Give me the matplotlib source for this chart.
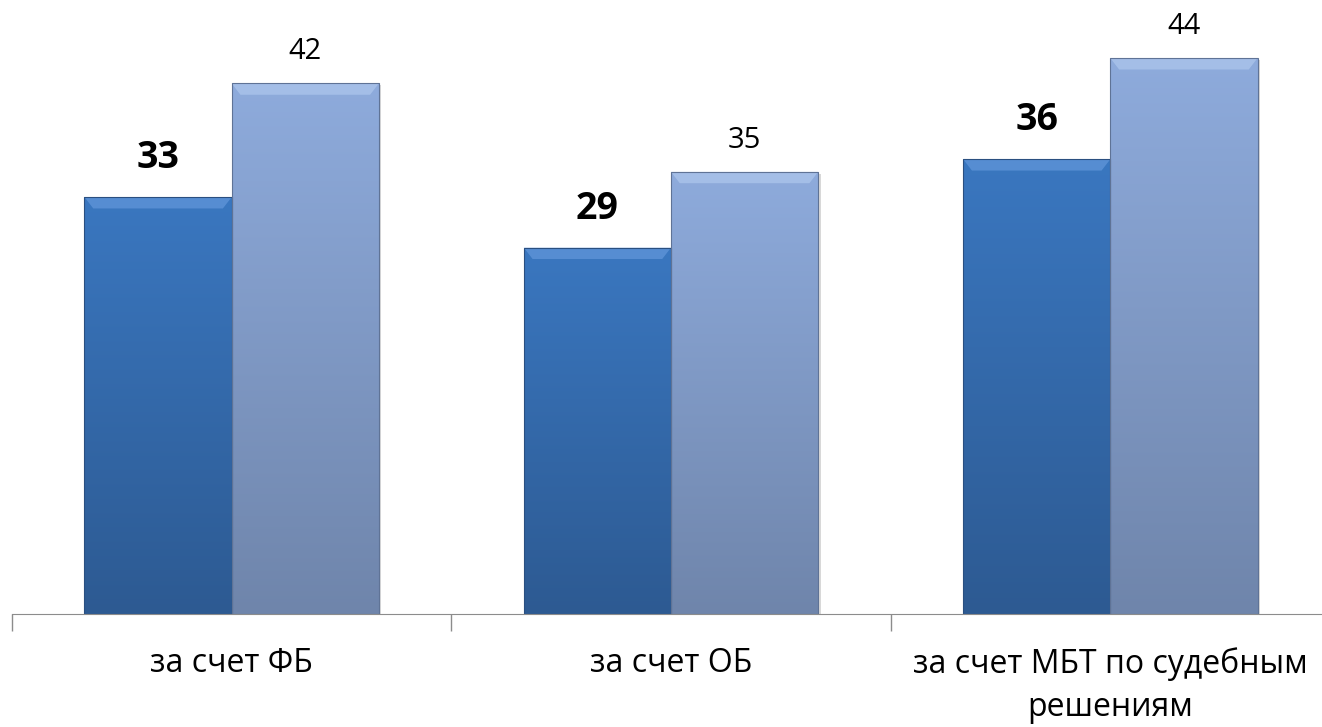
import numpy as np
from matplotlib import pyplot as plt
from matplotlib.colors import LinearSegmentedColormap

categories = ['за счет ФБ', 'за счет ОБ', 'за счет МБТ по судебным\nрешениям']
series_dark = [33, 29, 36]
series_light = [42, 35, 44]

plt.rcParams['font.family'] = ['Open Sans', 'DejaVu Sans']

fig = plt.figure(figsize=(13.22, 7.27), dpi=100)
ax = fig.add_axes([12 / 1322, 113 / 727, 1318 / 1322, 614 / 727])

x = np.arange(len(categories))
w = 0.335

bars_dark = ax.bar(x - w / 2, series_dark, w, color='none', edgecolor='#2a4f80', linewidth=0.8, zorder=3)
bars_light = ax.bar(x + w / 2, series_light, w, color='none', edgecolor='#5f7396', linewidth=0.8, zorder=3)

cmap_dark = LinearSegmentedColormap.from_list('d', ['#2d5a92', '#3a77c0'])
cmap_light = LinearSegmentedColormap.from_list('l', ['#6f85ab', '#8eabdc'])
grad = np.linspace(0, 1, 256).reshape(-1, 1)

for bars, cmap, top in [(bars_dark, cmap_dark, '#6a9ee0'), (bars_light, cmap_light, '#b4cdf0')]:
    for b in bars:
        x0, h, bw = b.get_x(), b.get_height(), b.get_width()
        im = ax.imshow(grad, cmap=cmap, origin='lower', aspect='auto',
                       extent=[x0, x0 + bw, 0, h], zorder=2)
        im.set_clip_path(b)
        # bevel highlight on top
        ax.fill([x0, x0 + bw, x0 + bw - 0.02, x0 + 0.02], [h, h, h - 0.9, h - 0.9],
                color=top, alpha=0.6, lw=0, zorder=2.5)
        # soft shadow
        ax.bar(x0 + bw / 2 + 0.006, h, bw, bottom=-0.15, color='#d8d8d8', zorder=1)

for b, v in zip(bars_dark, series_dark):
    ax.text(b.get_x() + b.get_width() / 2, v + 2.3, str(v), ha='center', va='baseline',
            fontsize=27, fontweight='bold')
for b, v in zip(bars_light, series_light):
    ax.text(b.get_x() + b.get_width() / 2, v + 1.9, str(v), ha='center', va='baseline',
            fontsize=21)

ax.set_xlim(-0.5, len(categories) - 0.5)
ax.set_ylim(0, 48.6)
ax.set_xticks(x)
ax.set_xticklabels(categories, fontsize=23, linespacing=1.4)
ax.set_xticks(np.arange(len(categories) + 1) - 0.5, minor=True)
ax.tick_params(axis='x', which='major', length=0, pad=24)
ax.tick_params(axis='x', which='minor', length=12, color='#8c8c8c', width=1)
ax.set_yticks([])
for s in ['top', 'right', 'left']:
    ax.spines[s].set_visible(False)
ax.spines['bottom'].set_color('#8c8c8c')
ax.spines['bottom'].set_zorder(4)

fig.savefig('out.png', dpi=100)
